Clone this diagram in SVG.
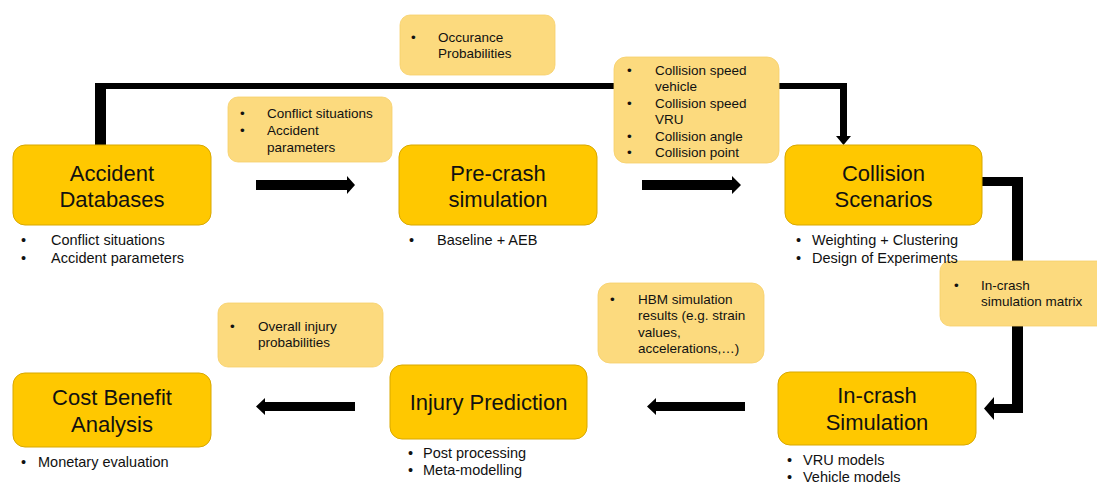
<svg xmlns="http://www.w3.org/2000/svg" width="1097" height="485" viewBox="0 0 1097 485">
<style>
.main{fill:#FFC800;stroke:#D8A800;stroke-width:1}
.lab{fill:#FCDA7E;stroke:#F6CF6A;stroke-width:0.8}
.t{font-family:"Liberation Sans",Arial,sans-serif;font-size:22px;fill:#111;text-anchor:middle}
.b{font-family:"Liberation Sans",Arial,sans-serif;font-size:14.5px;fill:#111}
.l{font-family:"Liberation Sans",Arial,sans-serif;font-size:13.5px;fill:#111}
.c{fill:#000}
</style>
<rect width="1097" height="485" fill="#fff"/>
<g id="connectors">
<polygon class="c" points="95,145 95,83 847,83 847,136 851,136 843.5,145 836,136 840,136 840,89 106,89 106,145"/>
<polygon class="c" points="982,177 1023,177 1023,413 994,413 994,420 984,408.5 994,397 994,404 1012,404 1012,186 982,186"/>
<polygon class="c" points="256,180 347,180 347,176 355,185 347,194 347,190 256,190"/>
<polygon class="c" points="642,180 732,180 732,176 741,185 732,194 732,190 642,190"/>
<polygon class="c" points="355,402 265,402 265,398 256,406.5 265,415 265,411 355,411"/>
<polygon class="c" points="745,402 656,402 656,398 647,406.5 656,415 656,411 745,411"/>
</g>
<g id="label-occurance">
<rect class="lab" x="400" y="15" width="155" height="60" rx="10"/>
<text class="l" x="411" y="42">•</text>
<text class="l" x="438" y="42">Occurance</text>
<text class="l" x="438" y="58">Probabilities</text>
</g>
<g id="label-conflict">
<rect class="lab" x="228" y="97" width="164" height="65" rx="10"/>
<text class="l" x="240" y="118">•</text>
<text class="l" x="267" y="118">Conflict situations</text>
<text class="l" x="240" y="135">•</text>
<text class="l" x="267" y="135">Accident</text>
<text class="l" x="267" y="152">parameters</text>
</g>
<g id="label-collision">
<rect class="lab" x="614" y="57" width="165" height="106" rx="12"/>
<text class="l" x="627" y="75">•</text>
<text class="l" x="655" y="75">Collision speed</text>
<text class="l" x="655" y="91">vehicle</text>
<text class="l" x="627" y="108">•</text>
<text class="l" x="655" y="108">Collision speed</text>
<text class="l" x="655" y="124">VRU</text>
<text class="l" x="627" y="141">•</text>
<text class="l" x="655" y="141">Collision angle</text>
<text class="l" x="627" y="157">•</text>
<text class="l" x="655" y="157">Collision point</text>
</g>
<g id="label-matrix">
<rect class="lab" x="940" y="261" width="170" height="65" rx="10"/>
<text class="l" x="954" y="290">•</text>
<text class="l" x="981" y="290">In-crash</text>
<text class="l" x="981" y="306">simulation matrix</text>
</g>
<g id="label-hbm">
<rect class="lab" x="598" y="283" width="166" height="80" rx="12"/>
<text class="l" x="610" y="304">•</text>
<text class="l" x="638" y="304">HBM simulation</text>
<text class="l" x="638" y="320">results (e.g. strain</text>
<text class="l" x="638" y="337">values,</text>
<text class="l" x="638" y="353">accelerations,…)</text>
</g>
<g id="label-overall">
<rect class="lab" x="218" y="303" width="165" height="64" rx="10"/>
<text class="l" x="230" y="331">•</text>
<text class="l" x="258" y="331">Overall injury</text>
<text class="l" x="258" y="347">probabilities</text>
</g>
<g id="node-accident">
<rect class="main" x="13" y="145" width="198" height="80" rx="12"/>
<text class="t" x="112" y="181">Accident</text>
<text class="t" x="112" y="207">Databases</text>
<text class="b" x="21" y="245">•</text>
<text class="b" x="51" y="245">Conflict situations</text>
<text class="b" x="21" y="263">•</text>
<text class="b" x="51" y="263">Accident parameters</text>
</g>
<g id="node-precrash">
<rect class="main" x="399" y="145" width="198" height="80" rx="12"/>
<text class="t" x="498" y="181">Pre-crash</text>
<text class="t" x="498" y="207">simulation</text>
<text class="b" x="409" y="245">•</text>
<text class="b" x="437" y="245">Baseline + AEB</text>
</g>
<g id="node-collision">
<rect class="main" x="785" y="145" width="197" height="80" rx="12"/>
<text class="t" x="883.5" y="181">Collision</text>
<text class="t" x="883.5" y="207">Scenarios</text>
<text class="b" x="796" y="245">•</text>
<text class="b" x="812" y="245">Weighting + Clustering</text>
<text class="b" x="796" y="263">•</text>
<text class="b" x="812" y="263">Design of Experiments</text>
</g>
<g id="node-incrash">
<rect class="main" x="778" y="372" width="198" height="73" rx="12"/>
<text class="t" x="877" y="403">In-crash</text>
<text class="t" x="877" y="430">Simulation</text>
<text class="b" x="787" y="465">•</text>
<text class="b" x="803" y="465">VRU models</text>
<text class="b" x="787" y="482">•</text>
<text class="b" x="803" y="482">Vehicle models</text>
</g>
<g id="node-injury">
<rect class="main" x="390" y="365" width="197" height="74" rx="12"/>
<text class="t" x="488.5" y="410">Injury Prediction</text>
<text class="b" x="408" y="458">•</text>
<text class="b" x="423" y="458">Post processing</text>
<text class="b" x="408" y="475">•</text>
<text class="b" x="423" y="475">Meta-modelling</text>
</g>
<g id="node-cost">
<rect class="main" x="13" y="373" width="198" height="74" rx="12"/>
<text class="t" x="112" y="405">Cost Benefit</text>
<text class="t" x="112" y="432">Analysis</text>
<text class="b" x="21" y="467">•</text>
<text class="b" x="38" y="467">Monetary evaluation</text>
</g>
</svg>
